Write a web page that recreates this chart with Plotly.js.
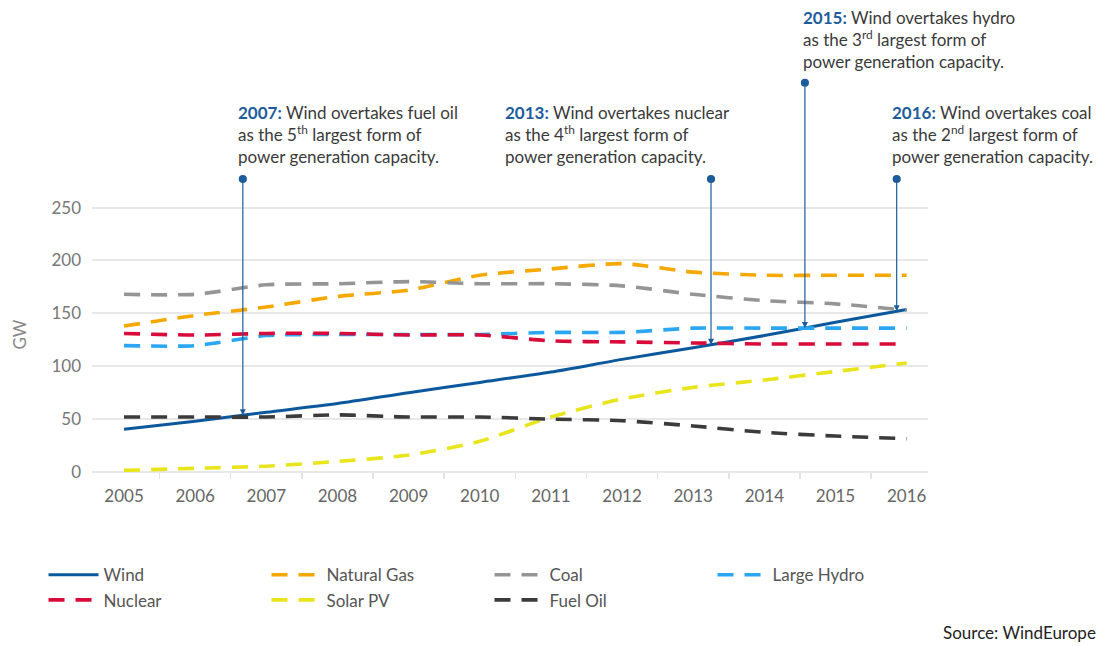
<!DOCTYPE html>
<html>
<head>
<meta charset="utf-8">
<script src="https://cdn.plot.ly/plotly-3.0.1.min.js"></script>
<style>html,body{margin:0;padding:0;background:#fff;}#chart{width:1105px;height:646px;}</style>
</head>
<body>
<div id="chart"></div>
<script>
// ---- data ----
var years = ['2005','2006','2007','2008','2009','2010','2011','2012','2013','2014','2015','2016'];
var wind       = [40.5, 48, 56.5, 64.7, 75, 84.7, 94.5, 106.5, 117.5, 129, 141.5, 153.7];
var naturalGas = [138, 148, 156, 166, 172, 186, 192, 197, 189, 186, 186, 186];
var coal       = [168, 168, 177, 178, 180, 178, 178, 176, 168, 162, 159, 153];
var largeHydro = [119.5, 119.5, 129, 130, 130, 130, 132, 132, 136, 136, 136, 136];
var nuclear    = [131, 129.5, 131, 131, 129.5, 129.5, 124, 123, 122, 121, 121, 121];
var solarPV    = [1.5, 3.5, 5.5, 10, 16, 29, 52, 69, 80, 87, 95, 103];
var fuelOil    = [52, 52, 52, 54, 52, 52, 50, 48.5, 43.5, 37.5, 34, 31.5];

// milestone callouts: position along the category axis where wind crosses another source
var eventPos   = [1.67, 8.25, 9.57, 10.86];
var eventTop   = [278, 278, 369, 278];
var eventTexts = [
  '<span style="color:#1d5c9c"><b>2007:</b></span> Wind overtakes fuel oil<br>as the 5<sup>th</sup> largest form of<br>power generation capacity.',
  '<span style="color:#1d5c9c"><b>2013:</b></span> Wind overtakes nuclear<br>as the 4<sup>th</sup> largest form of<br>power generation capacity.',
  '<span style="color:#1d5c9c"><b>2015:</b></span> Wind overtakes hydro<br>as the 3<sup>rd</sup> largest form of<br>power generation capacity.',
  '<span style="color:#1d5c9c"><b>2016:</b></span> Wind overtakes coal<br>as the 2<sup>nd</sup> largest form of<br>power generation capacity.'
];

function windAt(p){
  var i = Math.floor(p), f = p - i;
  if (i >= wind.length - 1) return wind[wind.length-1];
  return wind[i] + (wind[i+1]-wind[i])*f;
}

var dash = '16px,11px';
function tr(name, y, color, isDash){
  return {
    type:'scatter', mode:'lines', name:name, x:years, y:y,
    line:{color:color, width: isDash?3.6:3, dash: isDash?dash:'solid', shape:'spline', smoothing:0.7},
    cliponaxis:false, hoverinfo:'skip'
  };
}
var traces = [
  tr('Wind', wind, '#0c589c', false),
  tr('Natural Gas', naturalGas, '#f5a800', true),
  tr('Coal', coal, '#959595', true),
  tr('Large Hydro', largeHydro, '#2aa6f2', true),
  tr('Nuclear', nuclear, '#d90b3a', true),
  tr('Solar PV', solarPV, '#e9e51c', true),
  tr('Fuel Oil', fuelOil, '#3b3b3b', true)
];

// plot area pixel geometry helpers
var L = 92, R = 177, T = 197, B = 174, W = 1105, H = 646;
var pw = W - L - R, ph = H - T - B;
function px(x){ return (x - L)/pw; }
function py(y){ return (H - B - y)/ph; }

var textPos = [[236, 100],[503, 100],[801, 5],[890, 100]];
var annotations = [];
for (var k = 0; k < eventPos.length; k++){
  annotations.push({
    x: eventPos[k], y: windAt(eventPos[k]), xref:'x', yref:'y',
    ax: eventPos[k], ay: eventTop[k], axref:'x', ayref:'y',
    showarrow:true, arrowhead:2, arrowsize:1, arrowwidth:1.2, arrowcolor:'#1d5c9c',
    startarrowhead:6, startarrowsize:1.7, arrowside:'end+start', standoff:0, startstandoff:0,
    text:'\u00a0', font:{size:1}, borderpad:0
  });
  annotations.push({
    x: px(textPos[k][0]), y: py(textPos[k][1]), xref:'paper', yref:'paper',
    xanchor:'left', yanchor:'top', align:'left', showarrow:false,
    text: eventTexts[k], font:{family:'Lato, sans-serif', size:17, color:'#3a3a3a'}
  });
}
annotations.push({
  x: px(1098), y: py(620), xref:'paper', yref:'paper', xanchor:'right', yanchor:'top',
  showarrow:false, text:'Source: WindEurope',
  font:{family:'Lato, sans-serif', size:17, color:'#222'}
});

var layout = {
  width: W, height: H,
  margin:{l:L, r:R, t:T, b:B},
  paper_bgcolor:'#fff', plot_bgcolor:'#fff',
  showlegend:true,
  legend:{orientation:'h', x:-0.058, xanchor:'left', y:-0.31, yanchor:'top',
          entrywidth:158, tracegroupgap:0, itemwidth:50,
          font:{family:'Lato, sans-serif', size:17, color:'#555'}},
  xaxis:{type:'category', range:[-0.45, 11.3], showgrid:false, zeroline:false,
         tickson:'boundaries', ticks:'outside', ticklen:6, tickcolor:'#e3e3e3', tickwidth:1.5,
         ticklabelstandoff:12,
         showline:false, tickfont:{family:'Lato, sans-serif', size:17, color:'#666'}},
  yaxis:{range:[0, 260], tickvals:[0,50,100,150,200,250], showgrid:true, gridcolor:'#e8e8e8', gridwidth:2,
         zeroline:true, zerolinecolor:'#e8e8e8', zerolinewidth:2, ticks:'', ticklabelstandoff:10,
         tickfont:{family:'Lato, sans-serif', size:17, color:'#777'},
         title:{text:'GW', standoff:20, font:{family:'Lato, sans-serif', size:17, color:'#888'}}},
  annotations: annotations
};

Plotly.newPlot('chart', traces, layout, {displayModeBar:false, staticPlot:true});
</script>
</body>
</html>
